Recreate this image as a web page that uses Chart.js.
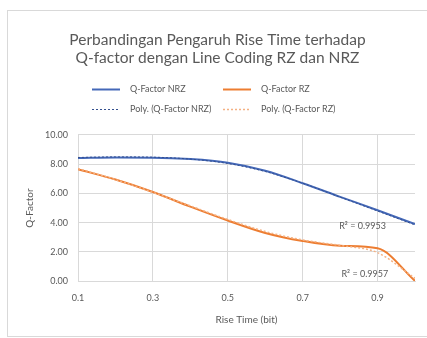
<!DOCTYPE html>
<html>
<head>
<meta charset="utf-8">
<title>Q-factor vs Rise Time</title>
<script src="https://cdn.jsdelivr.net/npm/chart.js@4.4.1/dist/chart.umd.min.js"></script>
<style>
    html, body { margin: 0; padding: 0; background: #ffffff; }
</style>
</head>
<body>
<canvas id="qfactorChart" width="427" height="338"></canvas>
<script>
// Values
const riseTime = [0.1, 0.2, 0.3, 0.4, 0.5, 0.6, 0.7, 0.8, 0.9, 1.0];
const qFactorNrz = [8.42, 8.46, 8.45, 8.35, 8.10, 7.55, 6.70, 5.77, 4.85, 3.90];
const qFactorRz = [7.65, 6.95, 6.10, 5.10, 4.15, 3.30, 2.75, 2.42, 2.25, 0.02];
const polyNrz = [8.46, 8.50, 8.48, 8.35, 8.05, 7.50, 6.70, 5.75, 4.80, 3.85];
const polyRz = [7.70, 6.95, 6.08, 5.15, 4.22, 3.40, 2.82, 2.45, 1.95, 0.20];
const xTickValues = [0.1, 0.3, 0.5, 0.7, 0.9];
const seriesNames = ['Q-Factor NRZ', 'Q-Factor RZ', 'Poly. (Q-Factor NRZ)', 'Poly. (Q-Factor RZ)'];
const rSquaredLabels = ['R\u00B2 = 0.9953', 'R\u00B2 = 0.9957'];

const BLUE = '#4468B8';
const BLUE_TREND = '#34508F';
const ORANGE = '#ED7D31';
const ORANGE_TREND = '#F4B183';
const TEXT = '#595959';
const GRID = '#d9d9d9';

Chart.defaults.font.family = 'Lato, "Open Sans", sans-serif';
Chart.defaults.color = TEXT;

function toPoints(values) {
    return riseTime.map((x, i) => ({ x: x, y: values[i] }));
}

// Outer chart frame like the spreadsheet chart box
const chartFrame = {
    id: 'chartFrame',
    beforeDraw(chart) {
        const ctx = chart.ctx;
        ctx.save();
        ctx.fillStyle = '#ffffff';
        ctx.fillRect(0, 0, chart.width, chart.height);
        ctx.strokeStyle = GRID;
        ctx.lineWidth = 1;
        ctx.strokeRect(7.5, 10.5, 430, 326);
        ctx.restore();
    }
};

// Two-column legend (Chart.js legend cannot align columns this way)
const columnLegend = {
    id: 'columnLegend',
    afterDraw(chart) {
        const ctx = chart.ctx;
        const cols = [92, 223];
        const rows = [89, 109];
        chart.data.datasets.forEach((ds, i) => {
            const x = cols[i % 2];
            const y = rows[Math.floor(i / 2)];
            ctx.save();
            ctx.strokeStyle = ds.borderColor;
            ctx.lineWidth = ds.borderWidth;
            ctx.setLineDash(ds.borderDash || []);
            ctx.beginPath();
            ctx.moveTo(x, y + 0.5);
            ctx.lineTo(x + 28, y + 0.5);
            ctx.stroke();
            ctx.setLineDash([]);
            ctx.fillStyle = TEXT;
            ctx.font = '9px ' + Chart.defaults.font.family;
            ctx.textBaseline = 'middle';
            ctx.fillText(ds.label, x + 38, y);
            ctx.restore();
        });
    }
};

// R-squared labels next to the trendlines
const rSquaredText = {
    id: 'rSquaredText',
    afterDatasetsDraw(chart) {
        const ctx = chart.ctx;
        const xs = chart.scales.x;
        const ys = chart.scales.y;
        const spots = [{ x: 0.86, y: 3.8 }, { x: 0.866, y: 0.5 }];
        ctx.save();
        ctx.fillStyle = TEXT;
        ctx.font = '9px ' + Chart.defaults.font.family;
        ctx.textAlign = 'center';
        ctx.textBaseline = 'middle';
        spots.forEach((p, i) => {
            ctx.fillText(rSquaredLabels[i], xs.getPixelForValue(p.x), ys.getPixelForValue(p.y));
        });
        ctx.restore();
    }
};

new Chart(document.getElementById('qfactorChart').getContext('2d'), {
    type: 'line',
    data: {
        datasets: [
            {
                label: seriesNames[0],
                data: toPoints(qFactorNrz),
                borderColor: BLUE,
                borderWidth: 2,
                cubicInterpolationMode: 'monotone',
                pointRadius: 0,
                order: 2
            },
            {
                label: seriesNames[1],
                data: toPoints(qFactorRz),
                borderColor: ORANGE,
                borderWidth: 2,
                cubicInterpolationMode: 'monotone',
                pointRadius: 0,
                order: 2
            },
            {
                label: seriesNames[2],
                data: toPoints(polyNrz),
                borderColor: BLUE_TREND,
                borderWidth: 1,
                borderDash: [2, 2],
                cubicInterpolationMode: 'monotone',
                pointRadius: 0,
                order: 1
            },
            {
                label: seriesNames[3],
                data: toPoints(polyRz),
                borderColor: ORANGE_TREND,
                borderWidth: 1.5,
                borderDash: [2, 2],
                cubicInterpolationMode: 'monotone',
                pointRadius: 0,
                order: 1
            }
        ]
    },
    options: {
        responsive: false,
        animation: false,
        layout: {
            padding: { left: 20, right: 12, top: 0, bottom: 10 }
        },
        plugins: {
            legend: { display: false },
            tooltip: { enabled: false },
            title: {
                display: true,
                text: ['Perbandingan Pengaruh Rise Time terhadap', 'Q-factor dengan Line Coding RZ dan NRZ'],
                color: TEXT,
                font: { size: 15.5, weight: 'normal', lineHeight: 1.16 },
                padding: { top: 31, bottom: 68 }
            }
        },
        scales: {
            x: {
                type: 'linear',
                min: 0.1,
                max: 1.0,
                afterBuildTicks: function(scale) {
                    scale.ticks = xTickValues.map(v => ({ value: v }));
                },
                ticks: {
                    padding: 11,
                    font: { size: 9 },
                    callback: function(value) {
                        return String(value);
                    }
                },
                grid: { color: GRID, drawTicks: false },
                border: { color: GRID },
                title: {
                    display: true,
                    text: 'Rise Time (bit)',
                    font: { size: 10 },
                    padding: { top: 0, bottom: 2 }
                }
            },
            y: {
                min: 0,
                max: 10,
                afterFit: function(scale) {
                    scale.width = 58;
                },
                ticks: {
                    stepSize: 2,
                    padding: 10,
                    font: { size: 9 },
                    callback: function(value) {
                        return value.toFixed(2);
                    }
                },
                grid: { color: GRID, drawTicks: false },
                border: { color: GRID },
                title: {
                    display: true,
                    text: 'Q-Factor',
                    font: { size: 10 },
                    padding: { top: 4, bottom: 4 }
                }
            }
        }
    },
    plugins: [chartFrame, columnLegend, rSquaredText]
});
</script>
</body>
</html>
